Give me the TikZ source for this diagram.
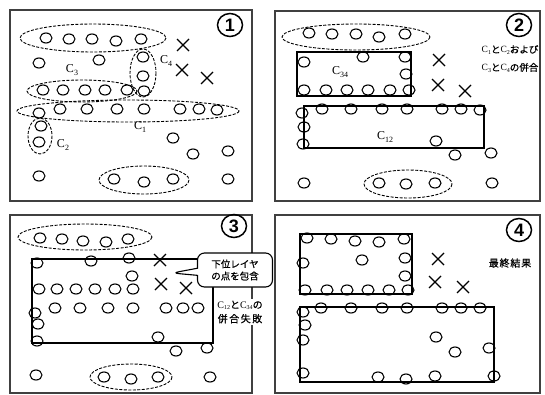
\documentclass[tikz,border=0pt]{standalone}
\usepackage{fontspec}
\setmainfont{Liberation Serif}
\newfontfamily\jpfont[FakeBold=0.6]{Noto Sans CJK JP}
\newfontfamily\numfont{Liberation Sans}
\usetikzlibrary{shapes.geometric, shapes.callouts}
\newcommand{\cname}[1]{C\raisebox{-2.5pt}{\fontsize{8}{8}\selectfont#1}}
\newcommand{\cmini}[1]{{\rmfamily C\raisebox{-1.5pt}{\fontsize{6}{6}\selectfont#1}}}
\tikzset{
  panel/.style={draw=black!75, line width=1.4pt},
  pt/.style={draw, line width=1.1pt},
  xline/.style={draw, line width=1.1pt},
  grp/.style={draw, line width=0.9pt, dash pattern=on 3pt off 1.5pt},
  clus/.style={draw, line width=1.3pt},
  clab/.style={font=\fontsize{12}{12}\selectfont, inner sep=0pt},
  stepnum/.style={draw, ellipse, line width=1.5pt, minimum width=25pt,
                  minimum height=23pt, inner sep=0pt,
                  font=\numfont\bfseries\fontsize{18}{18}\selectfont},
  note/.style={fill=white, inner sep=1pt, align=center,
               font=\jpfont\fontsize{9.5}{12}\selectfont},
}
\newcommand{\ptset}[1]{\foreach \x/\y in {#1} \draw[pt] (\x,\y) ellipse (6 and 5);}
\newcommand{\xset}[1]{\foreach \x/\y in {#1}
  \draw[xline] (\x-6,\y-6) -- (\x+6,\y+6) (\x-6,\y+6) -- (\x+6,\y-6);}

\begin{document}
\begin{tikzpicture}[x=1pt, y=-1pt]
  \useasboundingbox (0,0) rectangle (545,394);

  % ----- panels -----
  \draw[panel] (10,10) rectangle (252,201);
  \draw[panel] (275,11) rectangle (540,201);
  \draw[panel] (10,215) rectangle (252,393);
  \draw[panel] (275,215) rectangle (540,393);

  % ----- (1) initial clusters -----
  \draw[grp] (93,38) ellipse (73 and 14);     % upper C3
  \draw[grp] (82,91) ellipse (55 and 11);     % lower C3
  \draw[grp] (143,73) ellipse (13 and 24);    % C4
  \draw[grp] (128,111) ellipse (111 and 11);  % C1
  \draw[grp] (40,136) ellipse (12 and 18);    % C2
  \draw[grp] (144,180) ellipse (45 and 14);
  \ptset{46/38, 69/39, 92/39, 116/41, 141/39, 39/63, 99/60,
         143/57, 143/76, 144/91, 43/90, 63/90, 85/90, 105/90, 127/90,
         39/113, 60/109, 87/109, 117/109, 144/109, 180/109, 199/109, 217/110,
         41/126, 39/142, 173/138, 193/154, 228/151, 39/176, 228/179,
         114/179, 144/182, 173/179}
  \xset{183/45, 182/70, 207/78}
  \node[clab] (c3) at (72,70) {\cname{3}};
  \node[clab] (c4) at (166,61) {\cname{4}};
  \node[clab] (c1) at (140,127) {\cname{1}};
  \node[clab] (c2) at (63,145) {\cname{2}};
  \node[stepnum] (s1) at (230,25) {1};

  % ----- (2) C1+C2, C3+C4 -----
  \draw[grp] (356,37) ellipse (74 and 13);
  \draw[grp] (408,184) ellipse (44 and 14);
  \draw[clus] (297,52) rectangle (411,96);    % C34
  \draw[clus] (304,106) rectangle (484,148);  % C12
  \ptset{309/33, 332/34, 356/34, 379/37, 405/34,
         304/62, 363/57, 405/57, 406/74, 304/90, 326/90, 347/90, 368/90, 390/90, 409/90,
         322/109, 351/109, 382/109, 407/109, 442/109, 461/109, 480/110,
         302/113, 304/127, 303/144, 436/141, 455/155, 491/153,
         304/183, 379/183, 406/184, 435/183, 492/183}
  \xset{439/60, 438/85, 465/91}
  \node[clab] (c34) at (340,72) {\cname{34}};
  \node[clab] (c12) at (385,137) {\cname{12}};
  \node[stepnum] (s2) at (519,25) {2};
  \node[note, anchor=north, font=\jpfont\fontsize{9.5}{18}\selectfont, text depth=30pt]
       (m2) at (510,44) {\cmini{1}と\cmini{2}および\\\cmini{3}と\cmini{4}の併合};

  % ----- (3) failed merge -----
  \draw[grp] (85,237) ellipse (67 and 13);
  \draw[grp] (131,377) ellipse (41 and 13);
  \draw[clus] (32,259) rectangle (213,343);
  \ptset{40/238, 62/239, 83/241, 106/242, 128/239,
         37/263, 91/261, 129/258, 132/276,
         39/289, 57/289, 76/289, 95/289, 115/289, 133/289,
         55/308, 80/308, 108/308, 133/308, 166/308, 183/308, 198/308,
         35/313, 38/324, 37/341, 158/337, 176/351, 207/348,
         36/375, 104/377, 131/379, 158/377, 210/377}
  \xset{160/260, 161/284, 186/288}
  \node[stepnum] (s3) at (234,226) {3};
  \node[note, rectangle callout, draw, line width=1.1pt, rounded corners=7pt,
        minimum width=75pt, minimum height=34pt,
        callout absolute pointer={(172,273)}] (m3a) at (235,270) {下位レイヤ\\の点を包含};
  \node[note, font=\jpfont\fontsize{10}{14}\selectfont, inner ysep=2pt]
       (m3b) at (240,312) {\cmini{12}と\cmini{34}の\\{\addfontfeature{LetterSpace=15}併合失敗}};

  % ----- (4) final -----
  \draw[clus] (300,234) rectangle (412,294);
  \draw[clus] (300,307) rectangle (494,382);
  \ptset{307/238, 331/239, 355/241, 379/242, 404/239,
         362/260, 303/263, 405/258, 405/276,
         305/290, 327/290, 347/290, 368/290, 389/290, 408/290,
         321/308, 351/308, 382/308, 407/308, 442/308, 461/308, 480/308,
         303/312, 305/325, 303/340, 303/373, 436/337, 455/352, 489/348,
         378/377, 406/379, 435/376, 494/376}
  \xset{438/259, 435/282, 463/287}
  \node[stepnum] (s4) at (519,230) {4};
  \node[note, font=\jpfont\fontsize{10}{12}\selectfont\addfontfeature{LetterSpace=8}]
       (m4) at (510,263) {最終結果};
\end{tikzpicture}
\end{document}
